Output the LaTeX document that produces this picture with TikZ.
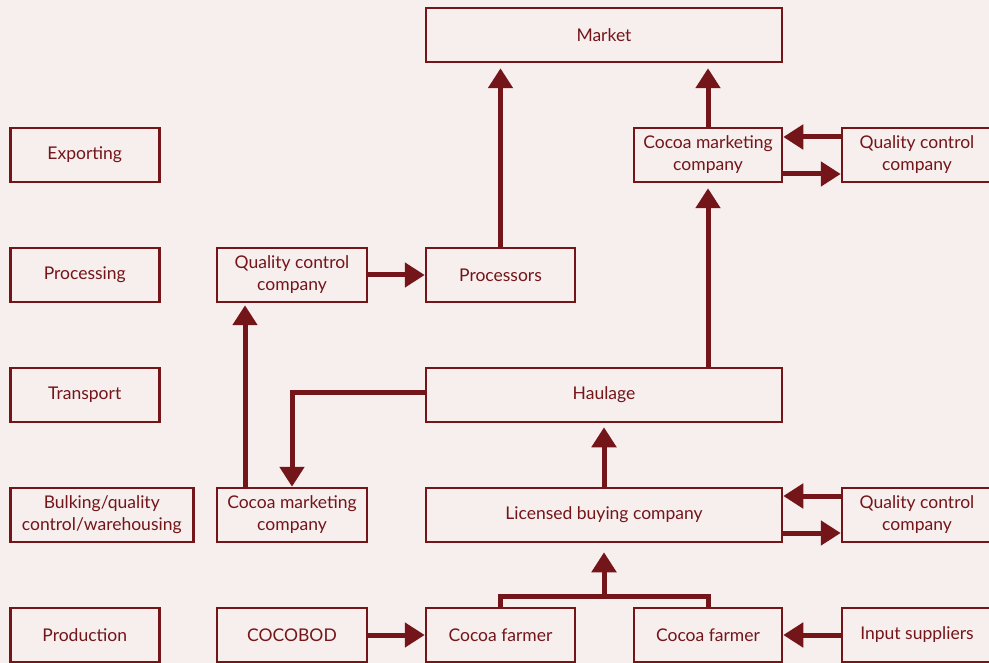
\documentclass[tikz,border=0pt]{standalone}
\usepackage{fontspec}
\setmainfont{Lato}
\usetikzlibrary{arrows.meta,positioning}
\definecolor{cocoared}{HTML}{731519}
\definecolor{cocoabg}{HTML}{F7EEEE}

\begin{document}
\begin{tikzpicture}[x=1pt,y=-1pt,
    box/.style={draw=cocoared,line width=2.5pt,text=cocoared,minimum height=54pt,inner sep=0pt,align=center,font=\fontsize{17.5}{22}\selectfont},
    flow/.style={draw=cocoared,line width=5pt,-{Triangle[length=20pt,width=24pt]}},
    link/.style={draw=cocoared,line width=5pt}]
    \fill[cocoabg] (0,0) rectangle (989,663);
    \useasboundingbox (0,0) rectangle (989,663);

    \foreach \lbl/\y/\w [count=\n] in
        {Exporting/155/149,Processing/275/149,Transport/395/149,{Bulking/quality\\control/warehousing}/515/183,Production/635/149}
        \node[box,anchor=west,minimum width=\w](S\n) at (9,\y) {\lbl};

    \node[box,minimum width=356](market) at (604,35) {Market};
    \node[box,minimum width=148](cmcA) at (708,155) {Cocoa marketing\\company};
    \node[box,minimum width=150](qcA) at (917,155) {Quality control\\company};
    \node[box,minimum width=150](qcB) at (292,275) {Quality control\\company};
    \node[box,minimum width=149](proc) at (500.5,275) {Processors};
    \node[box,minimum width=356](haul) at (604,395) {Haulage};
    \node[box,minimum width=150](cmcB) at (292,515) {Cocoa marketing\\company};
    \node[box,minimum width=356](lbc) at (604,515) {Licensed buying company};
    \node[box,minimum width=150](qcC) at (917,515) {Quality control\\company};
    \node[box,minimum width=150](cocobod) at (292,635) {COCOBOD};
    \node[box,minimum width=149](farmA) at (500.5,635) {Cocoa farmer};
    \node[box,minimum width=148](farmB) at (708,635) {Cocoa farmer};
    \node[box,minimum width=150](input) at (917,635) {Input suppliers};

    \draw[flow,shorten >=5pt] (proc.north) -- (proc.north |- market.south);
    \draw[flow,shorten >=5pt] (cmcA.north) -- (cmcA.north |- market.south);
    \draw[flow] ([yshift=18pt]qcA.west) -- ([yshift=18pt]cmcA.east);
    \draw[flow] ([yshift=-19pt]cmcA.east) -- ([yshift=-19pt]qcA.west);
    \draw[flow,shorten >=5pt] (haul.north -| cmcA) -- (cmcA.south);
    \draw[flow] (qcB.east) -- (proc.west);
    \draw[flow] ([yshift=3pt]haul.west) -| (cmcB.north);
    \draw[flow,shorten >=2pt] ([xshift=-47pt]cmcB.north) -- ([xshift=-47pt]qcB.south);
    \draw[flow,shorten >=4pt] (lbc.north) -- (haul.south);
    \draw[flow] ([yshift=19pt]qcC.west) -- ([yshift=19pt]lbc.east);
    \draw[flow] ([yshift=-18pt]lbc.east) -- ([yshift=-18pt]qcC.west);
    \draw[flow] (cocobod.east) -- (farmA.west);
    \draw[flow] (input.west) -- (farmB.east);
    \draw[link] (farmA.north) -- ++(0,-10) coordinate (fork) -| (farmB.north);
    \draw[flow,shorten >=9pt] (fork -| lbc.south) -- (lbc.south);
\end{tikzpicture}
\end{document}
